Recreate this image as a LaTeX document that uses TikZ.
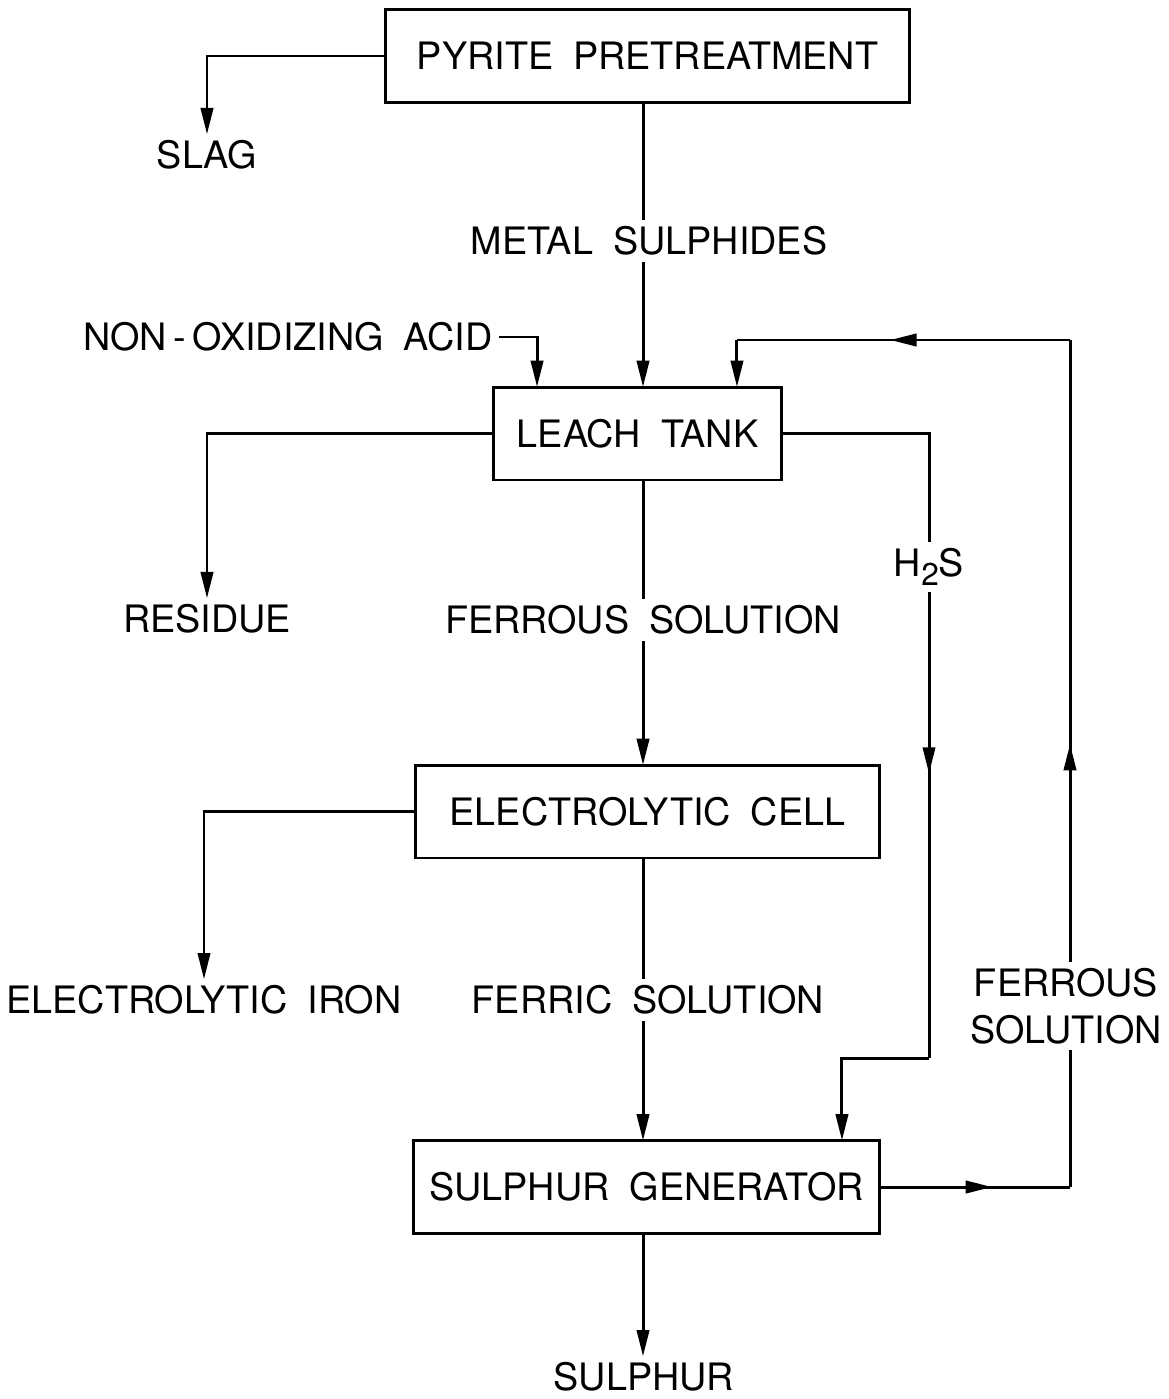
\documentclass[tikz,border=0pt]{standalone}
\usepackage{fontspec}
\setmainfont{TeX Gyre Heros}[WordSpace=1.9]
\usetikzlibrary{arrows.meta, calc, decorations.markings}

\begin{document}
\begin{tikzpicture}[
  x=0.02cm, y=-0.02cm,
  every node/.style={font=\fontsize{21.5}{27}\selectfont},
  procbox/.style={draw, line width=1.7pt, minimum height=1.86cm,
                  outer sep=0pt, inner sep=0pt},
  flow/.style={line width=1.7pt},
  arr/.style={flow, -{Triangle[length=15pt, width=7pt]}},
  midarr/.style={flow, postaction={decorate},
                 decoration={markings, mark=at position #1 with
                   {\arrow{Triangle[length=15pt, width=7pt]}}}}
]
\useasboundingbox (0,0) rectangle (1169,1399);

% process boxes
\node[procbox, minimum width=10.5cm]  (pre)   at (647.5,56)   {PYRITE PRETREATMENT};
\node[procbox, minimum width=5.78cm]  (leach) at (637.5,433.5) {LEACH TANK};
\node[procbox, minimum width=9.3cm]   (cell)  at (647.5,811.5) {ELECTROLYTIC CELL};
\node[procbox, minimum width=9.34cm]  (gen)   at (646.5,1187)  {SULPHUR GENERATOR};

% stream labels
\node (slag) at (207,155)  {SLAG};
\node (ms)   at (649,241)  {METAL SULPHIDES};
\node (acid) at (288,337)  {NON\,-\,OXIDIZING ACID};
\node (res)  at (207,619)  {RESIDUE};
\node (fs)   at (643,620)  {FERROUS SOLUTION};
\node (h2s)  at (929,567)  {H\raisebox{-0.45ex}{\fontsize{18}{18}\selectfont 2}S};
\node (iron) at (204,1000) {ELECTROLYTIC IRON};
\node (fc)   at (648,1000) {FERRIC SOLUTION};
\node[align=center] (fs2) at (1066,1006) {FERROUS\\SOLUTION};
\node (sul)  at (644,1377) {SULPHUR};

\coordinate (trunk) at (643,0);
\coordinate (hb)    at (929,1058);
\coordinate (rb)    at (1070,1187);
\coordinate (rt)    at (1070,340);
\coordinate (rin)   at ($(leach.north east)+(-45,0)$);

% main line
\draw[flow] (trunk |- pre.south)   -- (trunk |- ms.north);
\draw[arr]  (trunk |- ms.south)    -- (trunk |- leach.north);
\draw[flow] (trunk |- leach.south) -- (trunk |- fs.north);
\draw[arr]  (trunk |- fs.south)    -- (trunk |- cell.north);
\draw[flow] (trunk |- cell.south)  -- (trunk |- fc.north);
\draw[arr]  (trunk |- fc.south)    -- (trunk |- gen.north);
\draw[arr]  (trunk |- gen.south)   -- (trunk |- sul.north);

% side streams
\draw[arr] (pre.west)   -| (slag.north);
\draw[arr] (leach.west) -| (res.north);
\draw[arr] (cell.west)  -| (iron.north);
\draw[arr] (acid.east)  -| ($(leach.north west)+(44,0)$);

% H2S
\draw[flow]        (leach.east) -| (h2s.north);
\draw[midarr=0.39] (h2s.south)  -- (hb);
\draw[arr]         (hb) -| ($(gen.north east)+(-38,0)$);

% ferrous recycle
\draw[midarr=0.59] (gen.east) -- (rb);
\draw[flow]        (rb) -- (rb |- fs2.south);
\draw[midarr=0.35] (rb |- fs2.north) -- (rt);
\draw[midarr=0.54] (rt) -- (rin |- rt);
\draw[arr]         (rin |- rt) -- (rin);

\end{tikzpicture}
\end{document}
